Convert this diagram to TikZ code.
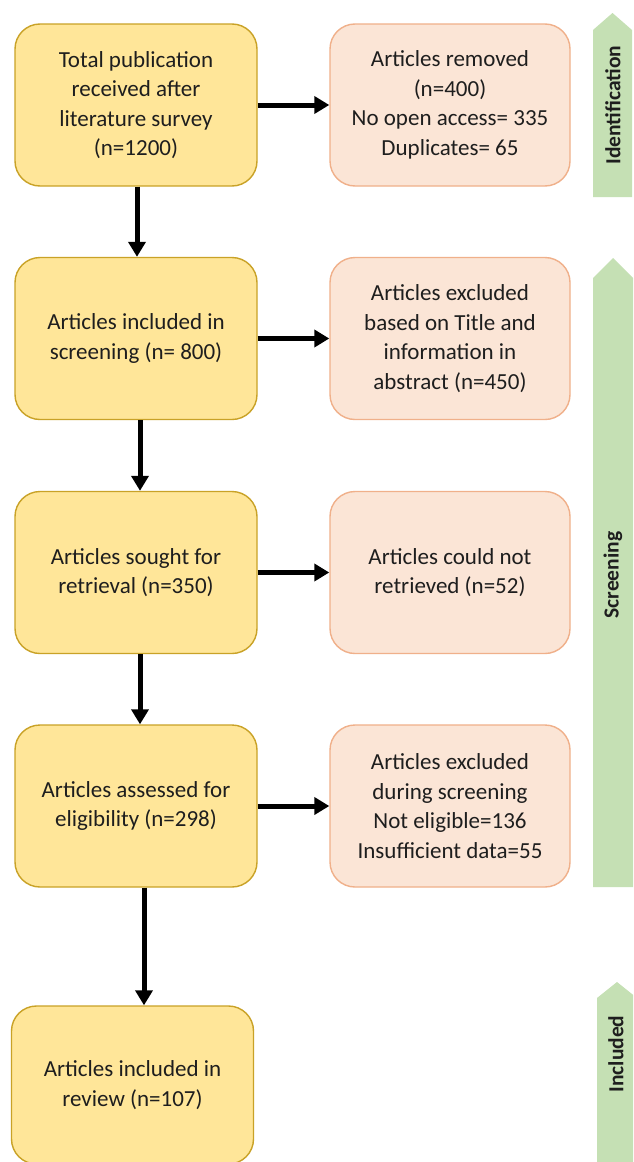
\documentclass[tikz,border=0pt]{standalone}
\usepackage{fontspec}
\setmainfont{Carlito}
\usetikzlibrary{arrows.meta}
\definecolor{ybox}{HTML}{FFE699}
\definecolor{yline}{HTML}{C9A227}
\definecolor{pbox}{HTML}{FBE5D6}
\definecolor{pline}{HTML}{F0B08A}
\definecolor{gbar}{HTML}{C5E0B4}
\definecolor{txt}{HTML}{1E1E1E}
\tikzset{
  base/.style={rounded corners=25pt, minimum height=162pt, inner sep=0pt, align=center,
    text=txt, font=\fontsize{23}{29.5}\selectfont, line width=1.4pt},
  ybx/.style={base, fill=ybox, draw=yline, minimum width=242pt},
  pbx/.style={base, fill=pbox, draw=pline, minimum width=240pt},
  arr/.style={line width=5pt, -{Triangle[length=15pt,width=17pt]}},
  bar/.style={fill=gbar, draw=none},
  barlabel/.style={rotate=90, font=\fontsize{21.5}{24}\selectfont\bfseries, text=txt}
}
\begin{document}
\begin{tikzpicture}[x=1pt,y=-1pt]
\clip (0,0) rectangle (633,1162);
\fill[white] (0,0) rectangle (633,1162);
% left column
\node[ybx] (b1) at (136,105) {Total publication\\received after\\literature survey\\(n=1200)};
\node[ybx] (b2) at (136,338.5) {Articles included in\\screening (n= 800)};
\node[ybx] (b3) at (136,572.5) {Articles sought for\\retrieval (n=350)};
\node[ybx] (b4) at (136,806) {Articles assessed for\\eligibility (n=298)};
\node[ybx, minimum height=158pt] (b5) at (132.5,1085) {Articles included in\\review (n=107)};
% right column
\node[pbx] (r1) at (450,105) {Articles removed\\(n=400)\\No open access= 335\\Duplicates= 65};
\node[pbx] (r2) at (450,338.5) {Articles excluded\\based on Title and\\information in\\abstract (n=450)};
\node[pbx] (r3) at (450,572.5) {Articles could not\\retrieved (n=52)};
\node[pbx] (r4) at (450,806) {Articles excluded\\during screening\\Not eligible=136\\Insufficient data=55};
% vertical arrows
\draw[arr] ([xshift=1pt]b1.south) -- ([xshift=1pt]b2.north);
\draw[arr] ([xshift=4pt]b2.south) -- ([xshift=4pt]b3.north);
\draw[arr] ([xshift=4pt]b3.south) -- ([xshift=4pt]b4.north);
\draw[arr] ([xshift=8pt]b4.south) -- ([xshift=11.5pt]b5.north);
% horizontal arrows
\draw[arr] (b1.east) -- (r1.west);
\draw[arr] (b2.east) -- (r2.west);
\draw[arr] (b3.east) -- (r3.west);
\draw[arr] (b4.east) -- (r4.west);
% side bars
\fill[bar] (593,197) -- (593,30) -- (612.5,13) -- (632,30) -- (632,197) -- cycle;
\node[barlabel] (lid) at (613,105) {Identification};
\fill[bar] (593,887) -- (593,278) -- (613,258) -- (633,278) -- (633,887) -- cycle;
\node[barlabel] (lsc) at (613,575) {Screening};
\fill[bar] (597,1170) -- (597,998) -- (617,982) -- (637,998) -- (637,1170) -- cycle;
\node[barlabel] (lin) at (616,1054) {Included};
\end{tikzpicture}
\end{document}
